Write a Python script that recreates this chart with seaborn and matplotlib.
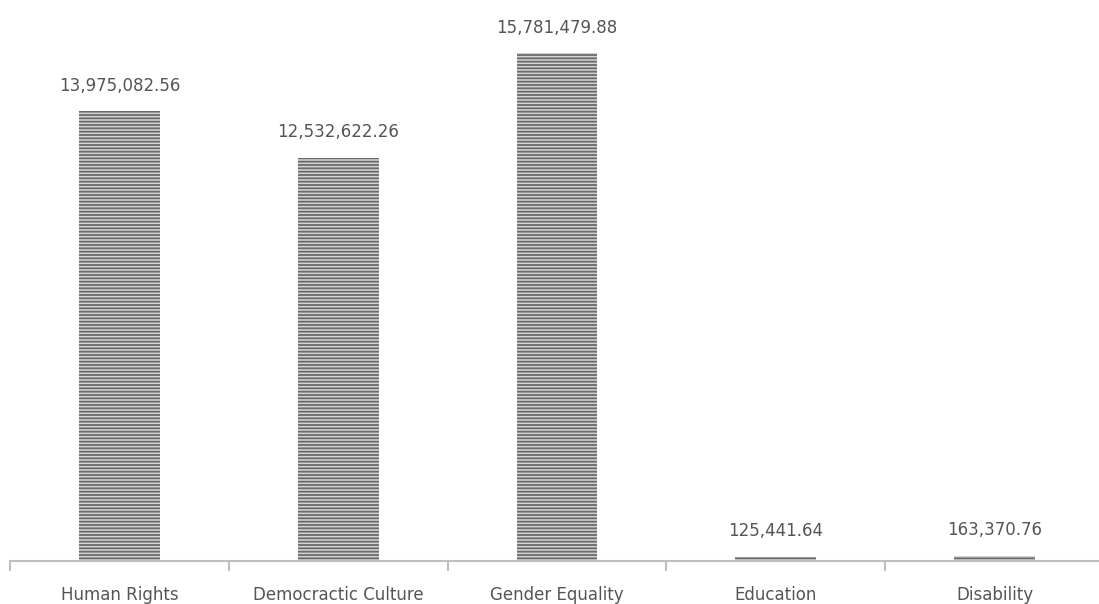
import matplotlib
matplotlib.use("Agg")
import numpy as np
import pandas as pd
import seaborn as sns
import matplotlib.pyplot as plt

# data
categories = ["Human Rights", "Democractic Culture", "Gender Equality", "Education", "Disability"]
amounts = [13975082.56, 12532622.26, 15781479.88, 125441.64, 163370.76]

df = pd.DataFrame({"Category": categories, "Amount": amounts})

sns.set_style("white")
plt.rcParams["font.family"] = ["DejaVu Sans"]
plt.rcParams["hatch.linewidth"] = 1.3
plt.rcParams["hatch.color"] = "#6a6a6a"

W, H = 1099, 604
fig = plt.figure(figsize=(W / 100, H / 100), dpi=100)
ax = fig.add_axes([10 / W, 43 / H, 1094 / W, 547 / H])

sns.barplot(data=df, x="Category", y="Amount", ax=ax, width=0.37,
            color="#d4d4d4", saturation=1, linewidth=0)
for p in ax.patches:
    p.set_hatch("-----")
    p.set_edgecolor("#6a6a6a")
    p.set_linewidth(0)

ax.set_xlim(-0.5, 4.5)
ax.set_ylim(0, 17000000)

for i, v in enumerate(amounts):
    ax.annotate(f"{v:,.2f}", (i, v), xytext=(0, 12), textcoords="offset points",
                ha="center", va="bottom", fontsize=12, color="#555555")

for s in ["top", "right", "left"]:
    ax.spines[s].set_visible(False)
ax.spines["bottom"].set_color("#bfbfbf")
ax.spines["bottom"].set_linewidth(1.5)

ax.set_yticks([])
ax.set_xlabel("")
ax.set_ylabel("")
ax.tick_params(axis="x", which="major", bottom=False, length=0, pad=18,
               labelsize=12, labelcolor="#555555")
ax.set_xticks(np.arange(-0.5, 5, 1), minor=True)
ax.tick_params(axis="x", which="minor", bottom=True, length=7, width=1.5,
               color="#bfbfbf", direction="out")

fig.savefig("out.png", dpi=100)
